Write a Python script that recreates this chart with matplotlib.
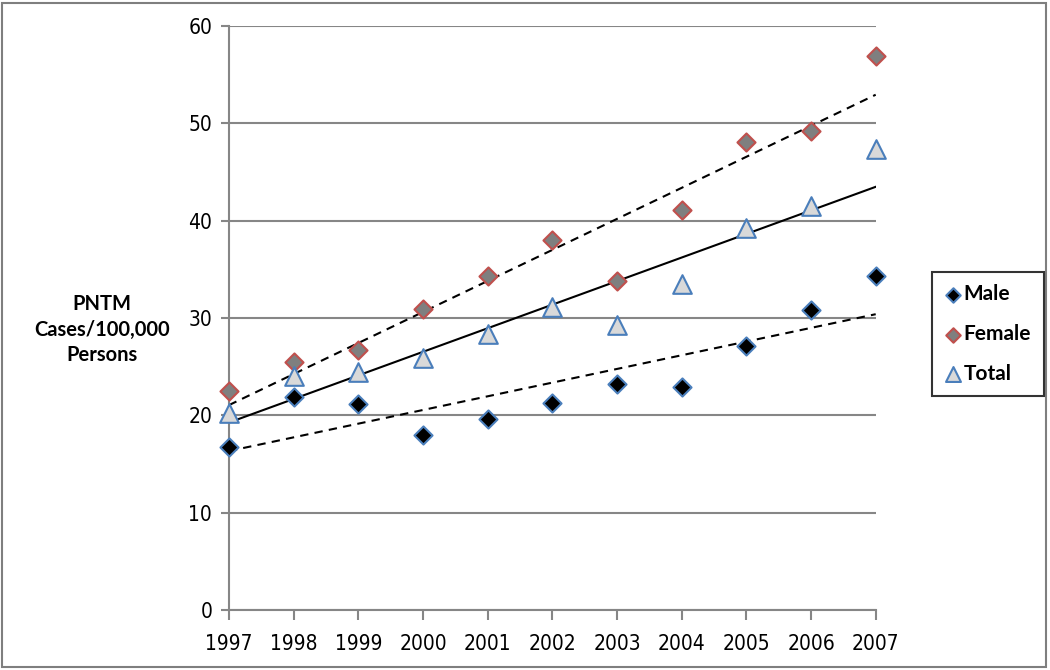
import numpy as np
import matplotlib
matplotlib.use("Agg")
import matplotlib.pyplot as plt
from matplotlib.patches import Rectangle

years = [1997, 1998, 1999, 2000, 2001, 2002, 2003, 2004, 2005, 2006, 2007]
male = [16.7, 21.9, 21.2, 18.0, 19.6, 21.3, 23.2, 22.9, 27.1, 30.8, 34.3]
female = [22.5, 25.5, 26.7, 30.9, 34.3, 38.0, 33.8, 41.1, 48.1, 49.2, 56.9]
total = [20.2, 24.0, 24.5, 25.9, 28.4, 31.1, 29.3, 33.5, 39.3, 41.5, 47.4]
y_ticks = [0, 10, 20, 30, 40, 50, 60]

plt.rcParams['font.family'] = ['DejaVu Sans']
plt.rcParams['font.stretch'] = 'condensed'

fig = plt.figure(figsize=(10.5, 6.7), dpi=100)
ax = fig.add_axes([0.218, 0.0896, 0.616, 0.8714])

grid_c = '#868686'
blue = '#4a7ebb'
x = np.array(years, dtype=float)

# linear trend lines
for vals, ls in [(male, (0, (4, 3))), (female, (0, (4, 3))), (total, '-')]:
    k, b = np.polyfit(x, vals, 1)
    ax.plot(x[[0, -1]], k * x[[0, -1]] + b, color='black', lw=1.5, ls=ls, zorder=2)

ax.scatter(years, male, marker='D', s=85, c='black', edgecolors=blue, linewidths=1.5,
           zorder=3, label='Male', clip_on=False)
ax.scatter(years, female, marker='D', s=85, c='#7f7f7f', edgecolors='#c0504d', linewidths=1.5,
           zorder=3, label='Female', clip_on=False)
ax.scatter(years, total, marker='^', s=180, c='#d9d9d9', edgecolors=blue, linewidths=1.5,
           zorder=3, label='Total', clip_on=False)

ax.set_xlim(1997, 2007)
ax.set_ylim(0, 60)
ax.set_yticks(y_ticks)
ax.set_xticks(years)
ax.set_xticklabels([str(y) for y in years])
ax.yaxis.grid(True, color=grid_c, lw=1.5)
ax.set_axisbelow(True)
for s in ['top', 'right']:
    ax.spines[s].set_visible(False)
for s in ['left', 'bottom']:
    ax.spines[s].set_color(grid_c)
    ax.spines[s].set_linewidth(1.5)
ax.tick_params(axis='y', length=6, width=1.5, color=grid_c, labelsize=15, pad=6)
ax.tick_params(axis='x', length=7, width=1.5, color=grid_c, labelsize=15, pad=10)

fig.text(0.097, 0.508, 'PNTM\nCases/100,000\nPersons', ha='center', va='center',
         fontsize=14.5, fontweight='bold', family=['Lato', 'DejaVu Sans'], linespacing=1.35,
         fontstretch='normal')

leg = fig.legend(loc='upper left', bbox_to_anchor=(0.878, 0.61), frameon=True, fancybox=False,
                 edgecolor='black', handletextpad=0.1, labelspacing=0.95,
                 borderpad=0.6, handlelength=0.8, scatterpoints=1, markerscale=0.8,
                 prop={'family': ['Lato', 'DejaVu Sans'], 'weight': 'bold', 'size': 15,
                       'stretch': 'normal'})
leg.get_frame().set_linewidth(1.5)

fig.patches.append(Rectangle((0.002, 0.004), 0.994, 0.992, transform=fig.transFigure,
                             fill=False, edgecolor='#7f7f7f', lw=1.5))

fig.savefig('out.png', dpi=100)
